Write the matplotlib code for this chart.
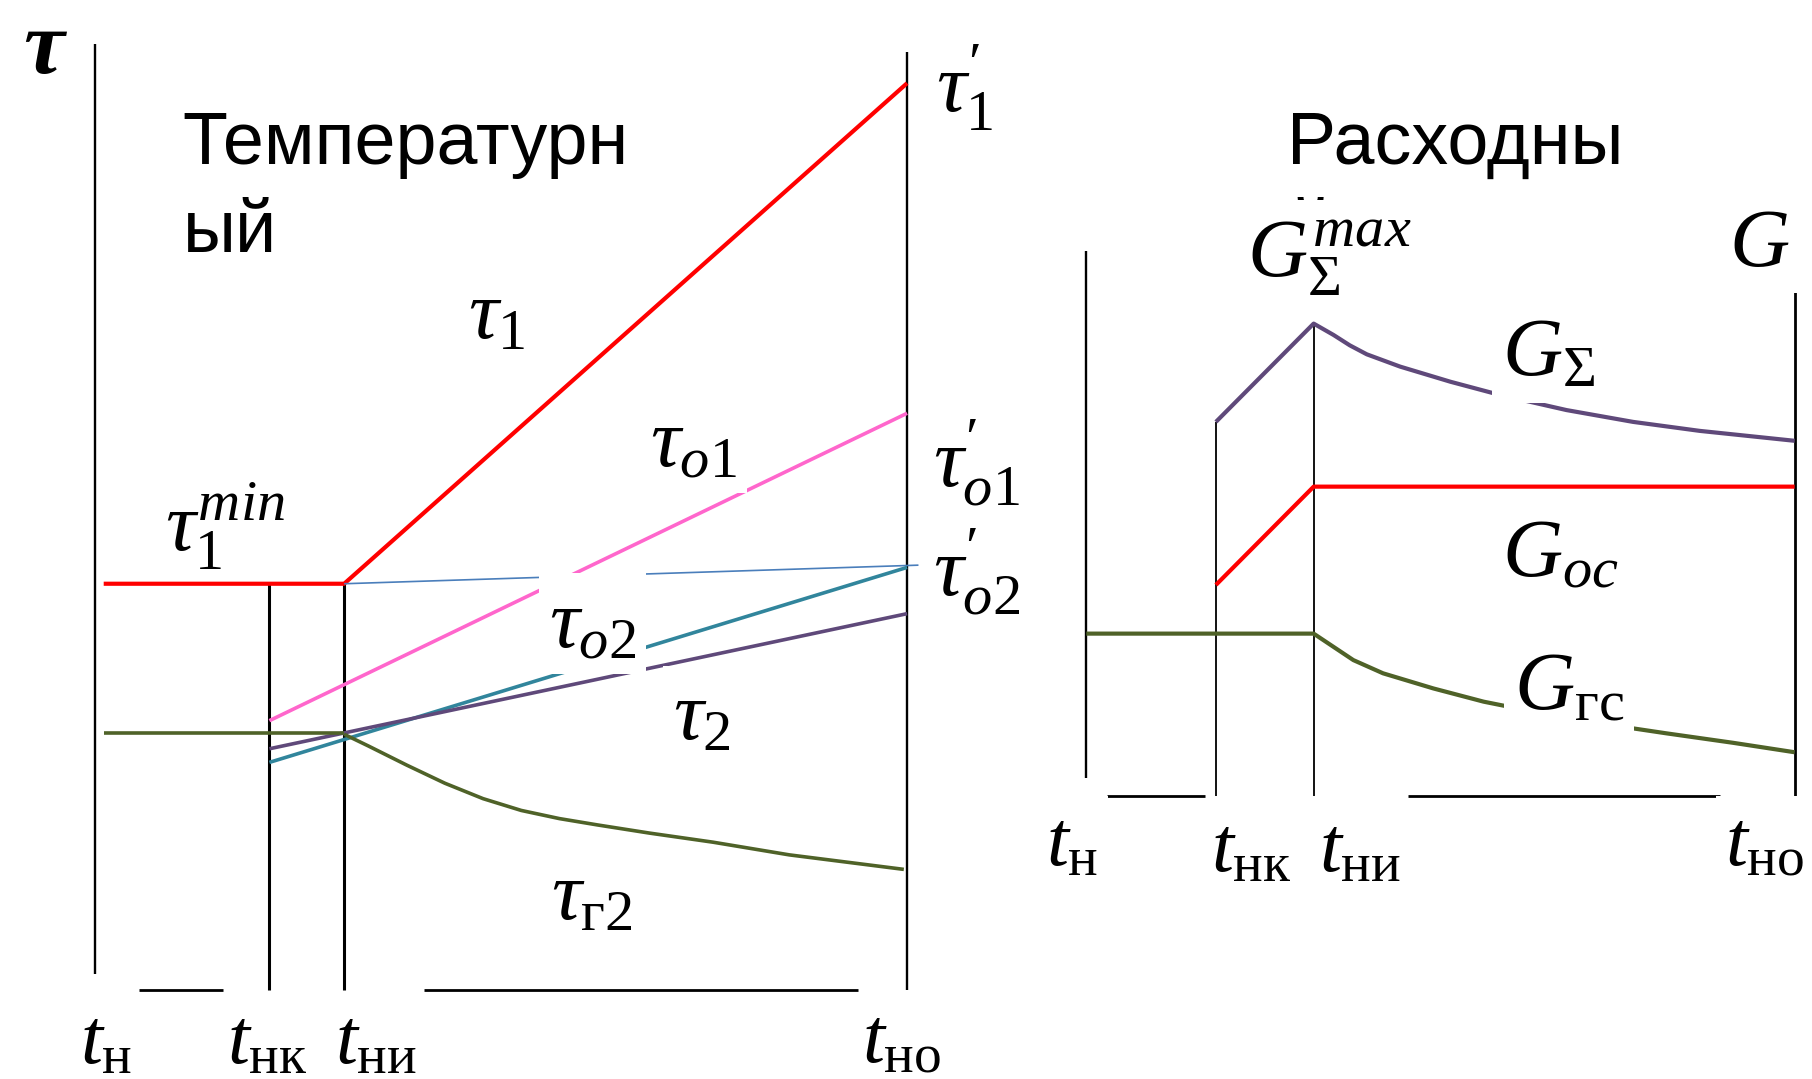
import matplotlib
matplotlib.use("Agg")
import matplotlib.pyplot as plt

plt.rcParams.update({
    "mathtext.fontset": "custom",
    "mathtext.rm": "Liberation Serif",
    "mathtext.it": "Liberation Serif:italic",
    "mathtext.bf": "Liberation Serif:bold",
})

# ---------- Temperature chart (time: t_н = 0 .. t_но = 1, τ in % of τ1') ----------
t_start_T = 0.011
t_nk_T = 0.215
t_ni_T = 0.307
tau1_min = 44.8
tau1_max = 100.0
tau_o1 = [29.7, 63.6]          # at t_нк and t_но
tau_o2_end = 46.6              # τ'o2
tau_o2_low_start = 25.1        # lower τo2 branch at t_нк
tau2 = [26.6, 41.5]            # at t_нк and t_но
tau_g2_flat = 28.3
tau_g2_x = [0.307, 0.337, 0.384, 0.431, 0.478, 0.525, 0.572, 0.619,
            0.683, 0.761, 0.855, 0.996]
tau_g2_y = [28.2, 26.9, 24.8, 22.8, 21.1, 19.8, 18.9, 18.2,
            17.3, 16.3, 14.9, 13.3]

# ---------- Flow chart (time: t_н = 0 .. t_но = 1, G in % of G_Σ max) ----------
t_nk_G = 0.183
t_ni_G = 0.321
G_sum_x = [0.183, 0.321, 0.349, 0.372, 0.396, 0.443, 0.514, 0.584,
           0.678, 0.772, 0.866, 1.0]
G_sum_y = [79.2, 100.0, 97.6, 95.4, 93.5, 90.9, 87.7, 84.9,
           81.7, 79.2, 77.3, 75.2]
G_oc_x = [0.183, 0.321, 1.0]
G_oc_y = [44.7, 65.5, 65.5]
G_gs_x = [0.0, 0.321, 0.349, 0.377, 0.419, 0.490, 0.561, 0.631,
          0.725, 0.819, 0.913, 1.0]
G_gs_y = [34.4, 34.4, 31.6, 28.8, 26.0, 22.8, 20.0, 17.9,
          15.4, 13.3, 11.3, 9.3]

RED = "#ff0000"
PINK = "#ff66cc"
BLUE = "#4a7ebb"
TEAL = "#31859c"
PURPLE = "#5f497a"
GREEN = "#4f6228"

fig = plt.figure(figsize=(18.12, 10.79), dpi=100)
fig.patch.set_facecolor("white")

axT = fig.add_axes([0.0523, 0.0825, 0.4483, 0.8404])
axG = fig.add_axes([0.5995, 0.2621, 0.3909, 0.4380])
for ax in (axT, axG):
    ax.set_xlim(0, 1)
    ax.set_ylim(0, 100)
    ax.set_axis_off()


def seg(ax, xs, ys, color="black", lw=1.7, z=2):
    ax.plot(xs, ys, color=color, lw=lw, zorder=z, clip_on=False,
            solid_capstyle="butt", solid_joinstyle="round")


def label(ax, x, y, s, size=60, pad=0.12, **kw):
    ax.text(x, y, s, ha="center", va="center", fontsize=size, zorder=6,
            clip_on=False,
            bbox=dict(boxstyle=f"square,pad={pad}", fc="white", ec="none"),
            **kw)


# --- temperature chart frame
seg(axT, [0, 0], [1.8, 104.3])
seg(axT, [1, 1], [0, 103.4])
seg(axT, [0.054, 0.158], [0, 0], lw=2.0)
seg(axT, [0.405, 0.94], [0, 0], lw=2.0)
seg(axT, [t_nk_T, t_nk_T], [0, tau1_min], lw=2.2)
seg(axT, [t_ni_T, t_ni_T], [0, tau1_min], lw=2.2)

# --- temperature curves
seg(axT, [t_start_T, t_ni_T, 1.0], [tau1_min, tau1_min, tau1_max], RED, 3.0, 3)
seg(axT, [t_nk_T, 1.0], tau_o1, PINK, 2.6, 3)
seg(axT, [t_ni_T, 1.014], [tau1_min, tau_o2_end + 0.25], BLUE, 1.2, 3)
seg(axT, [t_nk_T, 1.0], [tau_o2_low_start, tau_o2_end], TEAL, 2.6, 3)
seg(axT, [t_nk_T, 1.0], tau2, PURPLE, 2.6, 3)
seg(axT, [t_start_T, t_ni_T], [tau_g2_flat, tau_g2_flat], GREEN, 2.6, 3)
seg(axT, tau_g2_x, tau_g2_y, GREEN, 2.6, 3)

# --- temperature labels
axT.text(-0.063, 103.6, "τ", ha="center", va="center", fontsize=66,
         family="Liberation Serif", style="italic", weight="bold",
         clip_on=False)
label(axT, 0.495, 74.5, r"$\tau_1$")
label(axT, 0.737, 60.4, r"$\tau_{o1}$")
label(axT, 0.160, 51.2, r"$\tau_1^{min}$")
label(axT, 1.071, 99.6, r"$\tau_1^{\prime}$")
label(axT, 1.085, 58.2, r"$\tau_{o1}^{\prime}$")
label(axT, 1.085, 46.1, r"$\tau_{o2}^{\prime}$")
label(axT, 0.613, 40.4, r"$\tau_{o2}$")
label(axT, 0.748, 30.2, r"$\tau_2$")
label(axT, 0.612, 10.4, r"$\tau_{\mathrm{г}2}$")
label(axT, 0.014, -5.6, r"$t_{\mathrm{н}}$", size=57, pad=0.05)
label(axT, 0.213, -5.6, r"$t_{\mathrm{нк}}$", size=57, pad=0.05)
label(axT, 0.346, -5.6, r"$t_{\mathrm{ни}}$", size=57, pad=0.05)
label(axT, 0.993, -5.6, r"$t_{\mathrm{но}}$", size=57, pad=0.05)

# --- flow chart frame
seg(axG, [0, 0], [3.9, 115.4])
seg(axG, [1, 1], [0, 117.1], lw=2.0)
seg(axG, [0.029, 0.168], [0, 0], lw=2.0)
seg(axG, [0.454, 0.894], [0, 0], lw=2.0)
seg(axG, [t_nk_G, t_nk_G], [0, G_sum_y[0]], lw=1.3)
seg(axG, [t_ni_G, t_ni_G], [0, G_sum_y[1]], lw=1.3)

# --- flow curves
seg(axG, G_sum_x, G_sum_y, PURPLE, 3.0, 3)
seg(axG, G_oc_x, G_oc_y, RED, 3.0, 3)
seg(axG, G_gs_x, G_gs_y, GREEN, 3.0, 3)

# --- titles
title_kw = dict(fontsize=53, family="Liberation Sans", ha="left",
                va="baseline")
fig.text(158 / 1568, 1 - 142 / 934, "Температурн", **title_kw)
fig.text(158 / 1568, 1 - 218 / 934, "ый", **title_kw)
fig.text(1114 / 1568, 1 - 142 / 934, "Расходны", **title_kw)
# second line of the flow title sits beneath the G_Σ^max label box
axG.text(1116 / 1568, 1 - 218 / 934, "й", transform=fig.transFigure,
         zorder=1, clip_on=False, **title_kw)

# --- flow labels
label(axG, 0.343, 114.0, r"$G_{\Sigma}^{max}$", pad=0.2)
label(axG, 0.950, 117.1, r"$G$")
label(axG, 0.653, 93.9, r"$G_{\Sigma}$")
label(axG, 0.669, 51.6, r"$G_{oc}$")
label(axG, 0.682, 23.5, r"$G_{\mathrm{гс}}$")
label(axG, -0.020, -10.0, r"$t_{\mathrm{н}}$", size=57)
label(axG, 0.233, -11.2, r"$t_{\mathrm{нк}}$", size=57)
label(axG, 0.387, -11.2, r"$t_{\mathrm{ни}}$", size=57)
label(axG, 0.958, -10.0, r"$t_{\mathrm{но}}$", size=57)

fig.savefig("out.png", dpi=100, facecolor="white")
